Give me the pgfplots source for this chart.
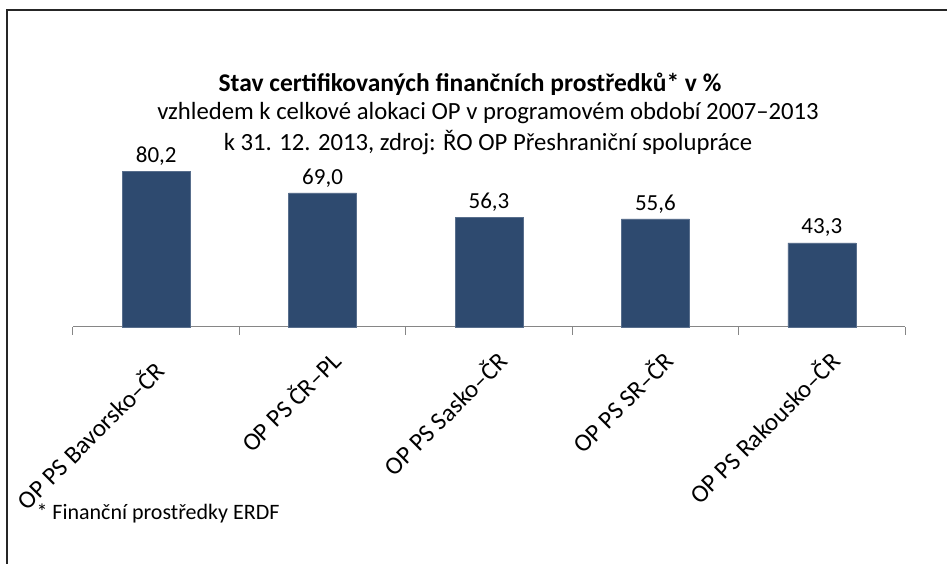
\documentclass[border=0pt]{standalone}
\usepackage{fontspec}
\setmainfont{Carlito}
\usepackage{pgfplots}
\pgfplotsset{compat=1.18}
\definecolor{barblue}{RGB}{46,74,111}
\definecolor{axgray}{RGB}{134,134,134}
\begin{document}
\begin{tikzpicture}[x=1pt,y=1pt]
\path[use as bounding box] (0,0) rectangle (947,564);
\draw[line width=1.6pt,black!85] (7,0) -- (7,554) -- (947,554);
\node[font=\fontsize{25.5}{30}\selectfont\bfseries] at (470,480) {Stav certifikovaných finančních prostředků* v \%};
\node[font=\fontsize{24.7}{30}\selectfont] at (488,451) {vzhledem k celkové alokaci OP v programovém období 2007--2013};
\node[font=\fontsize{24.7}{30}\selectfont] at (488,421) {k 31. 12. 2013, zdroj: ŘO OP Přeshraniční spolupráce};
\node[font=\fontsize{22}{26}\selectfont, anchor=west] at (33,51) {* Finanční prostředky ERDF};
\begin{axis}[
  at={(73pt,237pt)}, anchor=south west,
  scale only axis, width=832pt, height=175.05pt,
  xmin=-0.5, xmax=4.5, ymin=0, ymax=90,
  axis y line=none,
  axis x line*=bottom,
  x axis line style={axgray, line width=1pt, -},
  xtick={1,2,3,4},
  xticklabels={OP PS ČR--PL, OP PS Sasko--ČR, OP PS SR--ČR, OP PS Rakousko--ČR},
  minor xtick={-0.5,0.5,1.5,2.5,3.5,4.5},
  major tick length=0pt,
  minor tick length=8pt,
  tick align=outside,
  x tick style={axgray, line width=1pt},
  xticklabel style={xshift=13pt, yshift=-29pt, rotate=45, anchor=east, font=\fontsize{25}{30}\selectfont, inner sep=0pt},
  extra x ticks={0},
  extra x tick labels={OP PS Bavorsko--ČR},
  extra x tick style={xticklabel style={xshift=-14pt}},
  nodes near coords,
  nodes near coords style={anchor=center, yshift=15pt, font=\fontsize{23}{27}\selectfont, /pgf/number format/.cd, fixed, fixed zerofill, precision=1, use comma, assume math mode=true},
  clip=false,
]
\addplot[ybar, bar width=68pt, fill=barblue, draw=barblue!80!white] coordinates {(0,80.2) (1,69.0) (2,56.3) (3,55.6) (4,43.3)};
\end{axis}
\end{tikzpicture}
\end{document}
